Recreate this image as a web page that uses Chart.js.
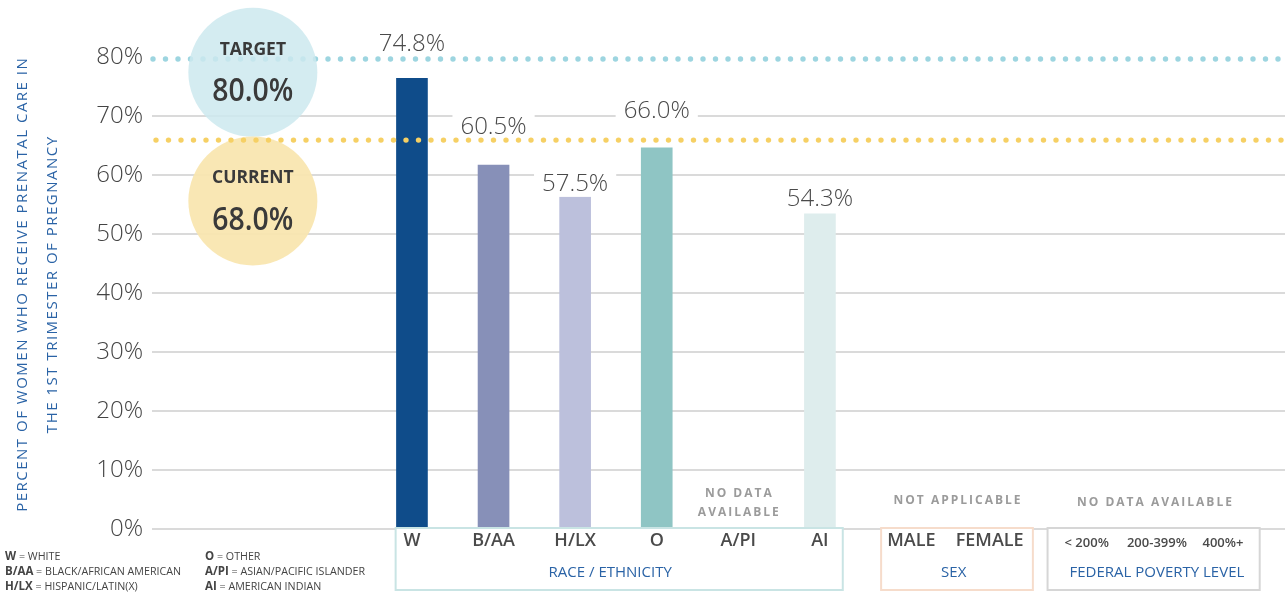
<!DOCTYPE html>
<html>
<head>
<meta charset="utf-8">
<script src="https://cdn.jsdelivr.net/npm/chart.js@4.4.1/dist/chart.umd.min.js"></script>
<style>
    html, body { margin: 0; padding: 0; background: #fff; }
    #wrap { position: relative; width: 1285px; height: 595px; }
</style>
</head>
<body>
<div id="wrap"><canvas id="chart"></canvas></div>
<script>
// --- data ---
const raceCategories = ['W', 'B/AA', 'H/LX', 'O', 'A/PI', 'AI'];
const raceNames = ['WHITE', 'BLACK/AFRICAN AMERICAN', 'HISPANIC/LATIN(X)', 'OTHER', 'ASIAN/PACIFIC ISLANDER', 'AMERICAN INDIAN'];
const raceValues = [76.4, 61.7, 56.3, 64.6, null, 53.4];      // bar heights as drawn
const raceValueLabels = ['74.8%', '60.5%', '57.5%', '66.0%', null, '54.3%'];
const sexCategories = ['MALE', 'FEMALE'];
const povertyCategories = ['< 200%', '200-399%', '400%+'];
const yTickValues = [0, 10, 20, 30, 40, 50, 60, 70, 80];
const targetValue = 80;
const targetLabel = '80.0%';
const currentValue = 66;
const currentLabel = '68.0%';

// --- layout (x in slot units, offsets in px) ---
const raceSlots = [3, 4, 5, 6, 7, 8];
const sexSlots = [9.12, 10.08];
const povertySlots = [11.27, 12.13, 12.94];
const labelOffsets = [-34, -38, -13, -37, null, -15];
const groups = [
    { title: 'RACE / ETHNICITY', from: 2.80, to: 8.28, titleAt: 5.43, border: '#c9e4e4' },
    { title: 'SEX', from: 8.75, to: 10.61, titleAt: 9.64, border: '#f6dccb' },
    { title: 'FEDERAL POVERTY LEVEL', from: 10.79, to: 13.39, titleAt: 12.13, border: '#d6d6d6' },
];

const COLORS = {
    bars: ['#0f4c8a', '#8790b8', '#bcc0dc', '#8fc5c4', '#ffffff', '#deeded'],
    grid: '#dadada',
    tick: '#444',
    value: '#4a4a4a',
    blue: '#2a63a6',
    muted: '#9b9b9b',
    targetDot: '#9dd5e0',
    currentDot: '#f6d064',
    targetFill: 'rgba(205, 233, 239, 0.85)',
    currentFill: 'rgba(249, 230, 176, 0.95)',
};
const FONT = '"Open Sans", "Noto Sans", sans-serif';

function dottedLine(ctx, x0, x1, yy, color) {
    ctx.save();
    ctx.strokeStyle = color;
    ctx.lineWidth = 5.4;
    ctx.lineCap = 'round';
    ctx.setLineDash([0, 12.5]);
    ctx.beginPath();
    ctx.moveTo(x0, yy);
    ctx.lineTo(x1, yy);
    ctx.stroke();
    ctx.restore();
}

function bubble(ctx, cx, cy, fill) {
    ctx.save();
    ctx.fillStyle = fill;
    ctx.beginPath();
    ctx.arc(cx, cy, 64.5, 0, Math.PI * 2);
    ctx.fill();
    ctx.restore();
}

function bubbleText(ctx, cx, cy, title, value) {
    ctx.save();
    ctx.fillStyle = '#3a3a3a';
    ctx.textAlign = 'center';
    ctx.textBaseline = 'middle';
    ctx.font = `700 17.5px ${FONT}`;
    ctx.fillText(title, cx, cy - 22.5);
    ctx.translate(cx, cy + 19.5);
    ctx.scale(0.86, 1);
    ctx.font = `600 33px ${FONT}`;
    ctx.fillText(value, 0, 0);
    ctx.restore();
}

function spacedText(ctx, text, x, y, spacing) {
    ctx.letterSpacing = spacing + 'px';
    ctx.fillText(text, x + spacing / 2, y);
    ctx.letterSpacing = '0px';
}

const infographic = {
    id: 'infographic',
    afterDatasetsDraw(chart) {
        const { ctx, chartArea, scales: { x, y } } = chart;

        // value labels over the bars, on a white patch that breaks the gridline
        const meta = chart.getDatasetMeta(0);
        ctx.save();
        ctx.font = `300 24px ${FONT}`;
        ctx.textAlign = 'center';
        ctx.textBaseline = 'middle';
        meta.data.forEach((bar, i) => {
            const idx = chart.data.datasets[0].data[i].idx;
            const text = raceValueLabels[idx];
            const ly = bar.y + labelOffsets[idx];
            const w = ctx.measureText(text).width + 16;
            ctx.fillStyle = '#fff';
            ctx.fillRect(bar.x - w / 2, ly - 13, w, 26);
            ctx.fillStyle = COLORS.value;
            ctx.fillText(text, bar.x, ly);
        });
        ctx.restore();

        // target / current reference lines with their bubbles
        const bx = x.getPixelForValue(1.05);
        dottedLine(ctx, chartArea.left + 1, chartArea.right + 6, y.getPixelForValue(targetValue) + 2, COLORS.targetDot);
        bubble(ctx, bx, y.getPixelForValue(77.4), COLORS.targetFill);
        bubble(ctx, bx, y.getPixelForValue(55.6), COLORS.currentFill);
        dottedLine(ctx, chartArea.left + 4, chartArea.right + 6, y.getPixelForValue(currentValue) + 0.5, COLORS.currentDot);
        bubbleText(ctx, bx, y.getPixelForValue(77.4), 'TARGET', targetLabel);
        bubbleText(ctx, bx, y.getPixelForValue(55.6), 'CURRENT', currentLabel);
    },
    afterDraw(chart) {
        const { ctx, scales: { x, y } } = chart;
        const base = y.getPixelForValue(0);

        // group boxes under the axis
        ctx.save();
        groups.forEach(g => {
            const l = x.getPixelForValue(g.from);
            const r = x.getPixelForValue(g.to);
            ctx.fillStyle = '#fff';
            ctx.fillRect(l, base - 1, r - l, 62);
            ctx.strokeStyle = g.border;
            ctx.lineWidth = 2;
            ctx.strokeRect(l, base - 1, r - l, 62);
            ctx.fillStyle = COLORS.blue;
            ctx.font = `400 15px ${FONT}`;
            ctx.textAlign = 'center';
            ctx.textBaseline = 'middle';
            ctx.fillText(g.title, x.getPixelForValue(g.titleAt), base + 44);
        });

        // category labels
        ctx.fillStyle = '#4a4a4a';
        ctx.textAlign = 'center';
        ctx.textBaseline = 'middle';
        ctx.font = `600 18px ${FONT}`;
        raceCategories.forEach((c, i) => ctx.fillText(c, x.getPixelForValue(raceSlots[i]), base + 12));
        sexCategories.forEach((c, i) => ctx.fillText(c, x.getPixelForValue(sexSlots[i]), base + 12));
        ctx.font = `600 13px ${FONT}`;
        povertyCategories.forEach((c, i) => ctx.fillText(c, x.getPixelForValue(povertySlots[i]), base + 14));

        // "no data" notes
        ctx.fillStyle = COLORS.muted;
        ctx.font = `700 12px ${FONT}`;
        const apiX = x.getPixelForValue(raceSlots[4]);
        spacedText(ctx, 'NO DATA', apiX, base - 35, 2);
        spacedText(ctx, 'AVAILABLE', apiX, base - 16, 2);
        spacedText(ctx, 'NOT APPLICABLE', x.getPixelForValue(9.68), base - 28, 2);
        spacedText(ctx, 'NO DATA AVAILABLE', x.getPixelForValue(12.1), base - 26, 2);

        // rotated y axis title
        ctx.save();
        ctx.translate(23, 285);
        ctx.rotate(-Math.PI / 2);
        ctx.fillStyle = COLORS.blue;
        ctx.font = `400 15px ${FONT}`;
        spacedText(ctx, 'PERCENT OF WOMEN WHO RECEIVE PRENATAL CARE IN', 0, 0, 1.5);
        spacedText(ctx, 'THE 1ST TRIMESTER OF PREGNANCY', 0, 30, 1.5);
        ctx.restore();

        // abbreviation key, bottom left
        ctx.textAlign = 'left';
        ctx.fillStyle = '#444';
        raceCategories.forEach((c, i) => {
            const col = Math.floor(i / 3);
            const row = i % 3;
            const kx = col === 0 ? 5 : 205;
            const ky = 557 + row * 15;
            ctx.font = `700 11.5px ${FONT}`;
            ctx.fillText(c, kx, ky);
            const w = ctx.measureText(c).width;
            ctx.font = `400 10.7px ${FONT}`;
            ctx.fillText(' = ' + raceNames[i], kx + w, ky);
        });
        ctx.restore();
    },
};

const barData = raceValues
    .map((v, i) => ({ x: raceSlots[i], y: v, idx: i }))
    .filter(d => d.y !== null);

new Chart(document.getElementById('chart'), {
    type: 'bar',
    data: {
        datasets: [{
            data: barData,
            backgroundColor: barData.map(d => COLORS.bars[d.idx]),
            barThickness: 31,
        }],
    },
    options: {
        responsive: true,
        maintainAspectRatio: false,
        animation: false,
        events: [],
        layout: { padding: { top: 57, bottom: 66, left: 0, right: 0 } },
        plugins: { legend: { display: false }, tooltip: { enabled: false } },
        scales: {
            x: {
                type: 'linear',
                display: false,
                offset: false,
                min: -0.186,
                max: 13.7,
            },
            y: {
                min: 0,
                max: 80,
                afterBuildTicks: (s) => { s.ticks = yTickValues.map(v => ({ value: v })); },
                afterFit: (s) => { s.width = 152; },
                border: { display: false },
                grid: {
                    color: (c) => c.tick && c.tick.value === targetValue ? 'rgba(0,0,0,0)' : COLORS.grid,
                    lineWidth: 2,
                    drawTicks: false,
                },
                ticks: {
                    padding: 9,
                    color: COLORS.tick,
                    font: { family: FONT, size: 24, weight: 300 },
                    callback: (v) => v + '%',
                },
            },
        },
    },
    plugins: [infographic],
});
</script>
</body>
</html>
